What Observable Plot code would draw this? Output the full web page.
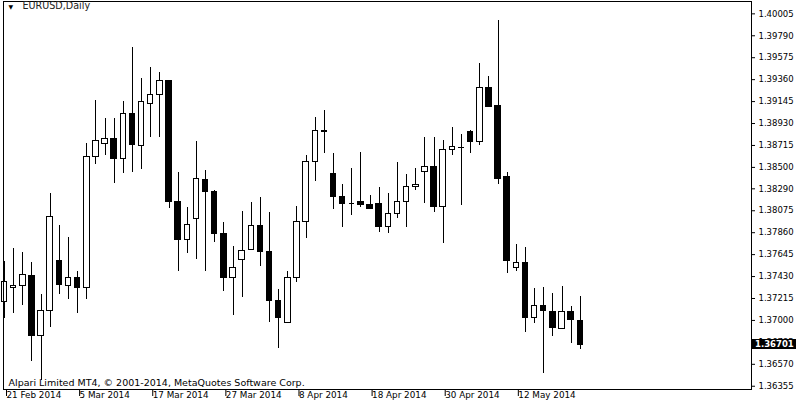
<!DOCTYPE html>
<html><head><meta charset="utf-8">
<script src="https://cdn.jsdelivr.net/npm/d3@7"></script>
<script src="https://cdn.jsdelivr.net/npm/@observablehq/plot@0.6"></script>
<style>body{margin:0;background:#fff}</style>
</head><body><div id="chart"></div>
<script>
// Daily EURUSD candles, 21 Feb 2014 .. 21 May 2014
const opens  = [1.37185,1.37322,1.37342,1.37440,1.36852,1.37097,1.37587,1.37342,1.37420,1.37322,
                1.38606,1.38734,1.38783,1.38587,1.39028,1.38714,1.39126,1.39214,1.39351,1.38165,
                1.37793,1.37999,1.38381,1.38263,1.37852,1.37411,1.37597,1.37695,1.37930,1.37675,
                1.37195,1.36979,1.37411,1.37969,1.38557,1.38861,1.38440,1.38205,1.38146,1.38156,
                1.38136,1.38146,1.37920,1.38048,1.38165,1.38312,1.38459,1.38508,1.38116,1.38675,
                1.38695,1.38851,1.38753,1.39283,1.39106,1.38401,1.37518,1.37567,1.37028,1.37146,
                1.37087,1.36920,1.37078,1.36999];
const highs  = [1.37577,1.37705,1.37666,1.37567,1.37254,1.38244,1.37930,1.37812,1.37479,1.38734,
                1.39155,1.38979,1.38979,1.39145,1.39675,1.39371,1.39479,1.39430,1.39351,1.38450,
                1.38106,1.38753,1.38469,1.38273,1.37960,1.37724,1.38067,1.38156,1.38205,1.38057,
                1.37303,1.37479,1.38116,1.38616,1.38989,1.39057,1.38636,1.38332,1.38489,1.38646,
                1.38224,1.38303,1.38244,1.38548,1.38430,1.38489,1.38793,1.38793,1.38763,1.38891,
                1.38822,1.38861,1.39518,1.39391,1.39939,1.38450,1.37744,1.37715,1.37313,1.37322,
                1.37264,1.37332,1.37136,1.37234];
const lows   = [1.37019,1.37068,1.37146,1.36597,1.36411,1.36930,1.37254,1.37205,1.37068,1.37205,
                1.38528,1.38616,1.38342,1.38440,1.38450,1.38479,1.38793,1.38793,1.38097,1.37479,
                1.37656,1.37597,1.37479,1.37763,1.37283,1.37048,1.37225,1.37685,1.37528,1.36979,
                1.36724,1.36970,1.37371,1.37803,1.38361,1.38636,1.38087,1.37911,1.38028,1.38106,
                1.38097,1.37862,1.37852,1.37999,1.37911,1.38273,1.38146,1.38057,1.37754,1.38616,
                1.38126,1.38636,1.38714,1.39096,1.38332,1.37460,1.37479,1.36881,1.36970,1.36480,
                1.36842,1.36920,1.36774,1.36715];
const closes = [1.37381,1.37342,1.37450,1.36852,1.37097,1.38018,1.37352,1.37420,1.37322,1.38606,
                1.38763,1.38783,1.38587,1.39028,1.38724,1.39145,1.39214,1.39351,1.38156,1.37793,
                1.37940,1.38391,1.38263,1.37852,1.37411,1.37518,1.37685,1.37930,1.37666,1.37195,
                1.37019,1.37411,1.37960,1.38557,1.38861,1.38842,1.38205,1.38146,1.38146,1.38136,
                1.38097,1.37920,1.38048,1.38165,1.38312,1.38332,1.38499,1.38116,1.38675,1.38695,
                1.38695,1.38753,1.39283,1.39096,1.38391,1.37587,1.37567,1.37028,1.37146,1.37097,
                1.36930,1.37087,1.37009,1.36764];

const dateTickIndex  = [0, 8, 16, 24, 32, 40, 48, 56];
const dateTickLabels = ["21 Feb 2014","5 Mar 2014","17 Mar 2014","27 Mar 2014","8 Apr 2014","18 Apr 2014","30 Apr 2014","12 May 2014"];
const priceTicks = [1.40005,1.39790,1.39575,1.39360,1.39145,1.38930,1.38715,1.38500,1.38290,
                    1.38075,1.37860,1.37645,1.37430,1.37215,1.37000,1.36785,1.36570,1.36355];
const symbolTitle = "EURUSD,Daily";
const copyrightText = "Alpari Limited MT4, \u00A9 2001-2014, MetaQuotes Software Corp.";
const currentPriceLabel = "1.36701";

const candles = opens.map((o, i) => ({i, open: o, high: highs[i], low: lows[i], close: closes[i]}));
const half = 0.3;
const FONT = "DejaVu Sans";

const chart = Plot.plot({
  width: 800, height: 400,
  marginTop: 1, marginBottom: 11, marginLeft: 3, marginRight: 49,
  style: {fontFamily: FONT, fontSize: "8.5px", background: "white", color: "black"},
  x: {domain: [-0.11, 81.73]},
  y: {domain: [1.36323, 1.40126]},
  marks: [
    Plot.ruleX(candles, {x: "i", y1: "low", y2: "high", stroke: "black", strokeWidth: 1, shapeRendering: "crispEdges"}),
    Plot.rect(candles, {x1: d => d.i - half, x2: d => d.i + half, y1: "open", y2: "close",
      fill: d => d.close >= d.open ? "white" : "black", stroke: "black", strokeWidth: 1, shapeRendering: "crispEdges"}),
    Plot.ruleY(candles.filter(d => Math.abs(d.close - d.open) < 0.00005),
      {y: "close", x1: d => d.i - half, x2: d => d.i + half, stroke: "black", shapeRendering: "crispEdges"}),
    Plot.frame({stroke: "black", shapeRendering: "crispEdges"}),
    Plot.axisY({anchor: "right", ticks: priceTicks, tickFormat: d => d.toFixed(5), tickSize: 3, tickPadding: 4,
      label: null, fontSize: "8.5px"}),
    Plot.axisX({anchor: "bottom", ticks: dateTickIndex, tickFormat: d => dateTickLabels[dateTickIndex.indexOf(d)],
      tickSize: 7, tickPadding: -5, textAnchor: "start", dx: 2, label: null, fontSize: "8.8px"}),
    Plot.text([symbolTitle], {text: d => "\u25BC", frameAnchor: "top-left", dx: 5, dy: 3, fontSize: 6, fill: "black"}),
    Plot.text([symbolTitle], {text: d => d, frameAnchor: "top-left", dx: 19, dy: 1, fontSize: "9.6px", fill: "#222"}),
    Plot.text([copyrightText], {text: d => d, frameAnchor: "bottom-left", dx: 5, dy: -4, fontSize: "9.5px", fill: "black"})
  ]
});
document.getElementById("chart").appendChild(chart);

// current price marker on the price axis
const ys = chart.scale("y");
const yLast = ys.apply(closes[closes.length - 1]);
const xs = chart.scale("x");
const xRight = xs.range[1];
const svg = d3.select(chart);
const g = svg.append("g");
g.append("rect").attr("x", xRight + 1).attr("y", yLast - 5).attr("width", 44).attr("height", 10).attr("fill", "black");
g.append("text").attr("x", xRight + 4).attr("y", yLast).attr("dy", "0.35em").attr("text-anchor", "start")
  .attr("fill", "white").attr("font-family", FONT).attr("font-size", "8.5px").attr("font-weight", "bold")
  .text(currentPriceLabel);
</script>
</body></html>
